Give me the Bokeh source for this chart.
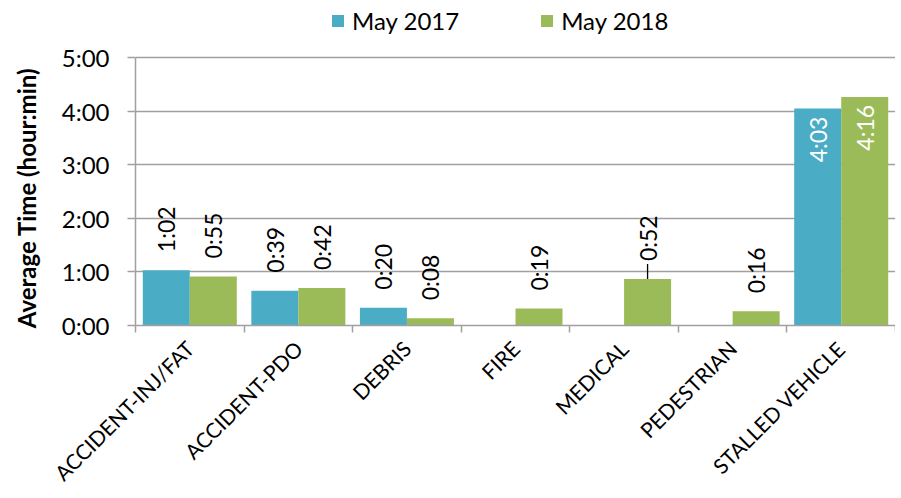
import math
from bokeh.plotting import figure
from bokeh.models import ColumnDataSource, FixedTicker, Legend, LegendItem, Range1d
from bokeh.core.properties import value
from bokeh.transform import dodge
from bokeh.embed import file_html
from bokeh.resources import INLINE

# ---- data (minutes) ----
categories = ["ACCIDENT-INJ/FAT", "ACCIDENT-PDO", "DEBRIS", "FIRE",
              "MEDICAL", "PEDESTRIAN", "STALLED VEHICLE"]
may_2017 = [62, 39, 20, None, None, None, 243]
may_2018 = [55, 42, 8, 19, 52, 16, 256]
series_names = ["May 2017", "May 2018"]
y_ticks = [0, 60, 120, 180, 240, 300]
y_tick_labels = ["0:00", "1:00", "2:00", "3:00", "4:00", "5:00"]
y_title = "Average Time (hour:min)"
leader_categories = ["MEDICAL"]

colors = ["#4BACC6", "#9BBB59"]
FONT = "Lato"
GRID = "#a0a0a0"
BAR_W = 0.433
INSIDE_MIN = 200  # labels drawn inside bars taller than this
Y_TOP = 364       # headroom above 5:00 holds the legend

def fmt(m):
    return f"{m // 60}:{m % 60:02d}"


p = figure(width=895, height=498, output_backend="svg", toolbar_location=None,
           x_range=Range1d(0, len(categories)), y_range=Range1d(0, Y_TOP),
           min_border_left=135, min_border_right=0, min_border_top=0,
           min_border_bottom=173)
p.outline_line_color = None
p.background_fill_color = "white"
p.border_fill_color = "white"

offsets = [-BAR_W / 2, BAR_W / 2]
renderers = []
for vals, off, col, name in zip([may_2017, may_2018], offsets, colors, series_names):
    xs, vs, labs, cats = [], [], [], []
    for i, v in enumerate(vals):
        if v is None:
            continue
        xs.append(i + 0.5)
        vs.append(v)
        labs.append(fmt(v))
        cats.append(categories[i])
    src = ColumnDataSource(dict(x=xs, v=vs, lbl=labs))
    r = p.vbar(x=dodge("x", off), top="v", width=BAR_W, source=src,
               fill_color=col, line_color=None)
    renderers.append(r)

    out = ColumnDataSource(dict(
        x=[x for x, v in zip(xs, vs) if v < INSIDE_MIN],
        v=[v for v in vs if v < INSIDE_MIN],
        lbl=[l for l, v in zip(labs, vs) if v < INSIDE_MIN]))
    ins = ColumnDataSource(dict(
        x=[x for x, v in zip(xs, vs) if v >= INSIDE_MIN],
        v=[v for v in vs if v >= INSIDE_MIN],
        lbl=[l for l, v in zip(labs, vs) if v >= INSIDE_MIN]))
    p.text(x=dodge("x", off), y="v", text="lbl", source=out, angle=math.pi / 2,
           text_align="left", text_baseline="middle", y_offset=-18,
           text_font=value(FONT), text_font_size="23px", text_color="black")
    p.text(x=dodge("x", off), y="v", text="lbl", source=ins, angle=math.pi / 2,
           text_align="right", text_baseline="middle", y_offset=8,
           text_font=value(FONT), text_font_size="23px", text_color="white")

    lx = [x for x, c in zip(xs, cats) if c in leader_categories]
    lv = [v for v, c in zip(vs, cats) if c in leader_categories]
    lead = ColumnDataSource(dict(x=lx, v=lv, v1=[v + 17 for v in lv]))
    if lx:
        p.segment(x0=dodge("x", off), y0="v", x1=dodge("x", off), y1="v1",
                  source=lead, line_color="black", line_width=1.3)

# ---- axes ----
xa = p.xaxis[0]
xa.ticker = FixedTicker(ticks=[i + 0.5 for i in range(len(categories))],
                        minor_ticks=list(range(len(categories) + 1)))
xa.major_label_overrides = {i + 0.5: c for i, c in enumerate(categories)}
xa.major_label_orientation = math.pi / 4
xa.major_tick_out = 0
xa.major_tick_in = 0
xa.minor_tick_out = 7
xa.minor_tick_in = 0
xa.minor_tick_line_color = GRID
xa.minor_tick_line_width = 1.5
xa.axis_line_color = GRID
xa.axis_line_width = 1.5
xa.major_label_text_font = FONT
xa.major_label_text_font_size = "21px"
xa.major_label_text_color = "black"
xa.major_label_standoff = 12

ya = p.yaxis[0]
ya.ticker = FixedTicker(ticks=y_ticks, minor_ticks=[])
ya.bounds = (y_ticks[0], y_ticks[-1])
ya.major_label_overrides = {t: l for t, l in zip(y_ticks, y_tick_labels)}
ya.major_tick_out = 8
ya.major_tick_in = 0
ya.major_tick_line_color = GRID
ya.major_tick_line_width = 1.5
ya.axis_line_color = GRID
ya.axis_line_width = 1.5
ya.major_label_text_font = FONT
ya.major_label_text_font_size = "24px"
ya.major_label_text_color = "black"
ya.major_label_standoff = 18
# trailing no-break spaces shift the centred title down to the 0:00-5:00 span
ya.axis_label = y_title + "\u00a0" * 12
ya.axis_label_text_font = FONT
ya.axis_label_text_font_size = "24px"
ya.axis_label_text_font_style = "bold"
ya.axis_label_text_color = "black"
ya.axis_label_standoff = 18

p.xgrid.visible = False
p.ygrid.grid_line_color = GRID
p.ygrid.grid_line_width = 1.5

legend = Legend(items=[LegendItem(label=n, renderers=[r]) for n, r in zip(series_names, renderers)],
                orientation="horizontal", location=(195, 290),
                glyph_width=15, glyph_height=15, label_standoff=7, spacing=80,
                padding=0, margin=0, border_line_color=None,
                background_fill_alpha=0,
                label_text_font=FONT, label_text_font_size="24px",
                label_text_color="black")
p.add_layout(legend)

open("out.html", "w").write(file_html(p, INLINE))
